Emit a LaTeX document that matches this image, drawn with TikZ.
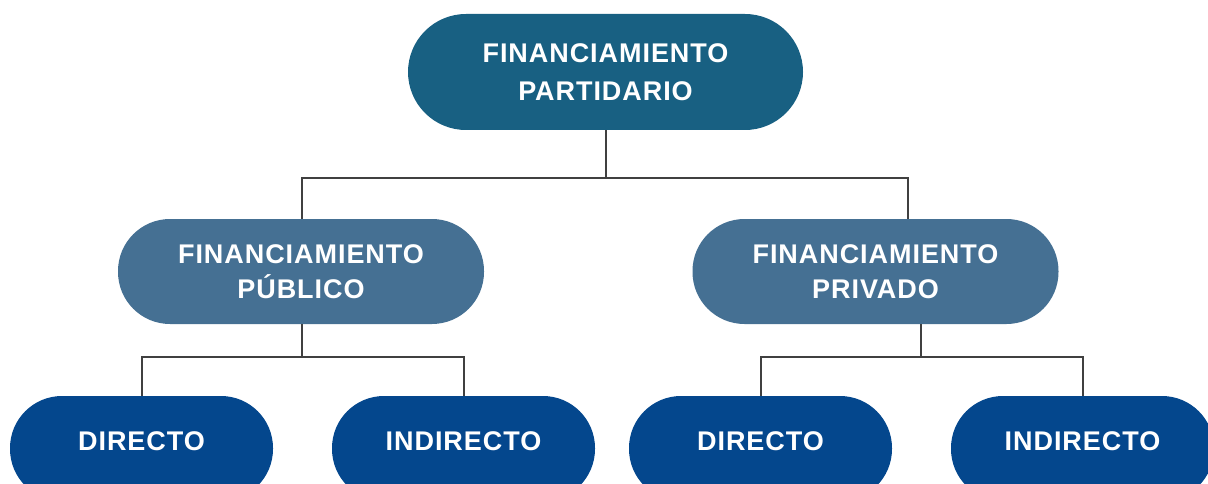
\documentclass[tikz,border=0pt]{standalone}
\usepackage{fontspec}
\setmainfont{Liberation Sans}[LetterSpace=3.5]
\usepackage{tikz}
\usetikzlibrary{positioning, calc}
\usepackage{xcolor}

\definecolor{rootblue}{HTML}{186082}
\definecolor{groupblue}{HTML}{457093}
\definecolor{leafblue}{HTML}{04478D}
\definecolor{linegray}{HTML}{404040}

\begin{document}
\begin{tikzpicture}[
        x=1pt, y=-1pt,
        pill/.style={rectangle, draw=none, text=white, align=center, font=\fontsize{27}{36}\selectfont\bfseries},
        rootbox/.style={pill, fill=rootblue, minimum width=395pt, minimum height=116pt, rounded corners=58pt, font=\fontsize{27}{38}\selectfont\bfseries},
        groupbox/.style={pill, fill=groupblue, minimum width=366pt, minimum height=105pt, rounded corners=52pt, font=\fontsize{27}{35}\selectfont\bfseries},
        leafbox/.style={pill, fill=leafblue, minimum width=263pt, minimum height=105pt, rounded corners=52pt, text height=20pt, text depth=16pt},
        link/.style={draw=linegray, line width=2pt}
    ]

    \useasboundingbox (0,0) rectangle (1208,484);
    \clip (0,0) rectangle (1208,484);

    % Nodes
    \node[rootbox] (root) at (605.5,72) {FINANCIAMIENTO\\PARTIDARIO};

    \node[groupbox] (publico) at (301,271.5) {FINANCIAMIENTO\\PÚBLICO};
    \node[groupbox] (privado) at (875.5,271.5) {FINANCIAMIENTO\\PRIVADO};

    \node[leafbox] (pubdir) at (141.5,448.5) {DIRECTO};
    \node[leafbox] (pubind) at (463.5,448.5) {INDIRECTO};
    \node[leafbox] (privdir) at (760.5,448.5) {DIRECTO};
    \node[leafbox] (privind) at (1082.5,448.5) {INDIRECTO};

    % Junctions
    \coordinate (rootjoin) at (606,178);
    \coordinate (privdrop) at (908,178);
    \coordinate (pubjoin) at (302,357);
    \coordinate (privjoin) at (921,357);

    % Edges
    \draw[link] (root.south -| rootjoin) -- (rootjoin);
    \draw[link] (rootjoin) -| (publico.north -| pubjoin);
    \draw[link] (rootjoin) -- (privdrop) -- (privdrop |- privado.north);

    \draw[link] (publico.south -| pubjoin) -- (pubjoin);
    \draw[link] (pubjoin) -| (pubdir.north);
    \draw[link] (pubjoin) -| (pubind.north);

    \draw[link] (privado.south -| privjoin) -- (privjoin);
    \draw[link] (privjoin) -| (privdir.north);
    \draw[link] (privjoin) -| (privind.north);

\end{tikzpicture}
\end{document}
